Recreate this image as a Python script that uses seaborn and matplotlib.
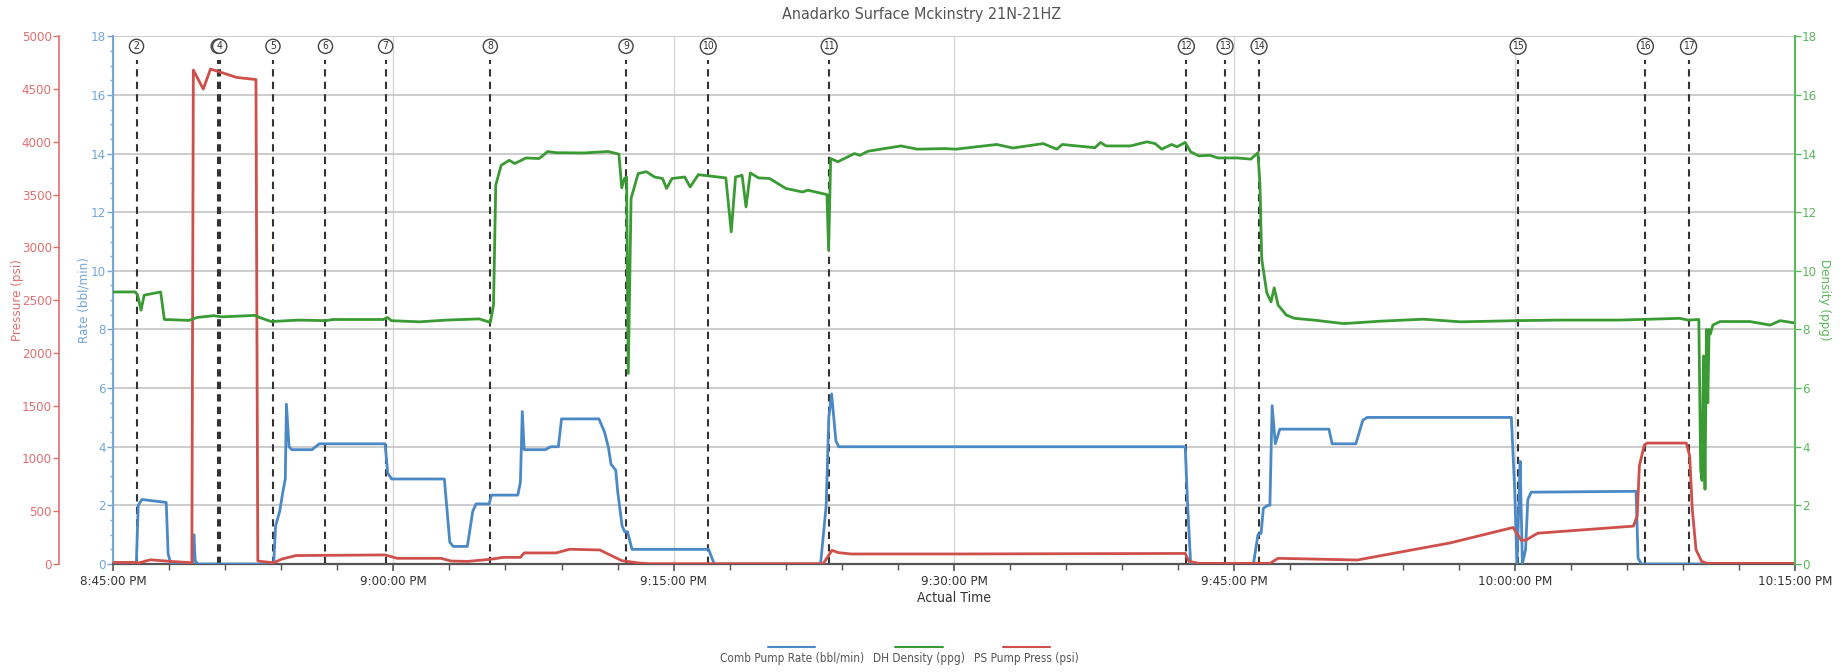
import numpy as np
import pandas as pd
import matplotlib
matplotlib.use("Agg")
import matplotlib.pyplot as plt
import seaborn as sns
from matplotlib.ticker import MultipleLocator, FuncFormatter
from matplotlib.offsetbox import VPacker
from matplotlib.lines import Line2D

# ---------------- data (minutes after 8:45:00 PM) ----------------
rate_t = [0, 1.25, 1.35, 1.55, 2.85, 2.95, 3.1, 4.25, 4.33, 4.4, 4.55, 8.6, 8.7, 8.92, 9.1, 9.22,
          9.28, 9.42, 9.57, 10.65, 11.04, 14.56, 14.7, 14.91, 17.73, 18.02, 18.2, 18.96, 19.25,
          19.43, 20.13, 20.25, 21.66, 21.8, 21.9, 22.0, 23.13, 23.42, 23.83, 24.0, 24.25, 26.0,
          26.3, 26.5, 26.65, 26.9, 27.0, 27.24, 27.38, 27.53, 27.77, 31.87, 32.17, 37.86, 38.16,
          38.3, 38.45, 38.68, 38.83, 57.37, 57.5, 57.66, 61.02, 61.26, 61.43, 61.55, 61.78, 61.9,
          62.02, 62.19, 62.43, 65.06, 65.23, 66.5, 66.87, 67.1, 74.82, 75.0, 75.12, 75.22, 75.29,
          75.41, 75.58, 75.7, 75.88, 81.49, 81.6, 81.78, 90]
rate_v = [0, 0, 2.0, 2.2, 2.1, 0.35, 0, 0, 1.0, 0.1, 0, 0, 1.3, 1.8, 2.5, 2.9,
          5.45, 4.0, 3.9, 3.9, 4.1, 4.1, 3.1, 2.9, 2.9, 0.75, 0.6, 0.6, 1.8,
          2.05, 2.05, 2.35, 2.35, 2.8, 5.2, 3.9, 3.9, 4.0, 4.0, 4.95, 4.95, 4.95,
          4.5, 4.0, 3.4, 3.2, 2.5, 1.3, 1.1, 1.1, 0.5, 0.5, 0, 0, 2.0,
          5.0, 5.8, 4.2, 4.0, 4.0, 2.0, 0, 0, 1.0, 1.05, 1.9, 2.0, 2.0,
          5.4, 4.1, 4.6, 4.6, 4.1, 4.1, 4.9, 5.0, 5.0, 2.5, 0, 2.0, 3.5,
          0, 0.5, 2.2, 2.45, 2.48, 0.2, 0, 0]

press_t = [0, 1.14, 1.38, 2.0, 3.05, 4.22, 4.3, 4.83, 5.22, 6.62, 7.65, 7.75, 7.88, 8.6, 9.05,
           9.8, 11.1, 14.56, 15.2, 17.55, 18.1, 19.0, 20.2, 20.9, 21.8, 22.0, 23.7, 24.44, 26.05,
           27.22, 28.1, 28.7, 38.0, 38.47, 38.8, 39.5, 45, 57.37, 57.57, 58.1, 61.9, 62.34, 66.58,
           71.55, 74.91, 75.35, 75.58, 76.23, 81.35, 81.55, 81.67, 81.93, 82.08, 84.18, 84.36,
           84.5, 84.7, 85.0, 85.3, 90]
press_v = [15, 15, 10, 40, 25, 12, 4680, 4500, 4690, 4610, 4590, 30, 25, 12, 48,
           80, 82, 86, 54, 54, 28, 25, 45, 63, 63, 105, 105, 140, 133,
           32, 10, 3, 3, 130, 108, 95, 95, 100, 25, 6, 6, 54, 38,
           200, 346, 225, 225, 292, 359, 454, 930, 1127, 1146, 1146, 1025,
           517, 136, 25, 6, 6]

dens_t = [0, 1.2, 1.32, 1.5, 1.67, 2.55, 2.75, 4.07, 4.5, 5.39, 5.83, 7.59, 7.88, 8.47, 9.93,
          11.4, 11.75, 14.47, 14.68, 14.9, 16.38, 17.84, 19.6, 20.19, 20.36, 20.48, 20.77, 21.2,
          21.5, 22.1, 22.8, 23.26, 23.7, 25.17, 26.49, 27.07, 27.22, 27.37, 27.48, 27.57, 27.72,
          28.1, 28.54, 28.98, 29.4, 29.62, 29.91, 30.59, 30.88, 31.32, 32.79, 33.08, 33.31, 33.66,
          33.87, 34.1, 34.54, 35.13, 36.0, 36.89, 37.18, 38.2, 38.29, 38.4, 38.78, 39.67, 39.96,
          40.4, 42.16, 43.04, 44.5, 45.1, 47.28, 48.15, 49.77, 50.5, 50.79, 52.54, 52.84, 53.13,
          54.44, 55.32, 55.76, 56.11, 56.64, 56.93, 57.37, 57.66, 58.1, 58.68, 59.12, 60.15,
          60.88, 61.26, 61.37, 61.46, 61.73, 61.96, 62.13, 62.34, 62.78, 63.22, 64.24, 65.85,
          67.75, 70.09, 72.13, 75.06, 77.4, 80.61, 83.83, 84.27, 84.85, 84.95, 85.02, 85.1,
          85.18, 85.26, 85.33, 85.4, 85.47, 85.6, 85.99, 87.59, 88.66, 89.2, 90]
dens_v = [9.28, 9.28, 9.17, 8.66, 9.17, 9.28, 8.34, 8.31, 8.41, 8.47, 8.43, 8.48, 8.4, 8.27, 8.32,
          8.3, 8.34, 8.34, 8.41, 8.3, 8.26, 8.32, 8.36, 8.24, 8.83, 12.92, 13.6, 13.77,
          13.66, 13.85, 13.83, 14.07, 14.03, 14.02, 14.07, 13.98, 12.83, 13.15, 13.2, 6.5, 12.47,
          13.32, 13.38, 13.2, 13.15, 12.81, 13.15, 13.2, 12.86, 13.28, 13.17, 11.33, 13.2, 13.26,
          12.18, 13.34, 13.17, 13.15, 12.81, 12.69, 12.75, 12.6, 10.7, 13.83, 13.72, 14.0, 13.94,
          14.08, 14.26, 14.15, 14.17, 14.15, 14.31, 14.19, 14.34, 14.15, 14.31, 14.2, 14.38, 14.26,
          14.26, 14.4, 14.34, 14.15, 14.31, 14.23, 14.38, 14.06, 13.92, 13.94, 13.85, 13.85,
          13.81, 14.03, 12.92, 10.42, 9.26, 8.94, 9.42, 8.83, 8.49, 8.38, 8.32, 8.2,
          8.28, 8.35, 8.26, 8.3, 8.32, 8.32, 8.38, 8.32, 8.34, 3.2, 2.85, 7.1,
          2.55, 8.0, 5.5, 8.0, 7.85, 8.15, 8.27, 8.27, 8.15, 8.3, 8.22]

event_labels = ["2", "3", "4", "5", "6", "7", "8", "9", "10", "11", "12", "13", "14", "15", "16", "17"]
event_times = [1.26, 5.63, 5.71, 8.56, 11.37, 14.59, 20.19, 27.45, 31.85, 38.32,
               57.43, 59.5, 61.32, 75.18, 81.99, 84.3]

series_names = ["Comb Pump Rate (bbl/min)", "DH Density (ppg)", "PS Pump Press (psi)"]
title = "Anadarko Surface Mckinstry 21N-21HZ"

# ---------------- style ----------------
BLUE = "#4a89c6"
GREEN = "#3a9b34"
RED = "#cf4f4a"
BLUE_T = "#74a6d8"
GREEN_T = "#5cb85c"
RED_T = "#e07070"

sns.set_theme(style="white")
plt.rcParams["font.family"] = ["DejaVu Sans"]
plt.rcParams["font.stretch"] = "condensed"

fig = plt.figure(figsize=(18.43, 6.72), dpi=100)
ax = fig.add_axes([0.0613, 0.1607, 0.9127, 0.7853])
ax_p = ax.twinx()
ax_d = ax.twinx()

rate_df = pd.DataFrame({"t": rate_t, "v": rate_v})
press_df = pd.DataFrame({"t": press_t, "v": press_v})
dens_df = pd.DataFrame({"t": dens_t, "v": dens_v})

# event markers
ax.vlines(event_times, 0, 0.955, transform=ax.get_xaxis_transform(),
          colors="#333333", linewidth=1.5, linestyles=(0, (3.5, 2.5)), zorder=1)
for lab, t in zip(event_labels, event_times):
    ax.text(t, 0.981, lab, transform=ax.get_xaxis_transform(), ha="center", va="center",
            fontsize=7.5, color="#333333", zorder=5,
            bbox=dict(boxstyle="circle,pad=0.2", fc="white", ec="#444444", lw=1))

sns.lineplot(data=rate_df, x="t", y="v", ax=ax, color=BLUE, linewidth=2,
             estimator=None, sort=False, legend=False, zorder=3)
sns.lineplot(data=press_df, x="t", y="v", ax=ax_p, color=RED, linewidth=2,
             estimator=None, sort=False, legend=False)
sns.lineplot(data=dens_df, x="t", y="v", ax=ax_d, color=GREEN, linewidth=2,
             estimator=None, sort=False, legend=False)

ax.set_xlim(0, 90)
ax.set_ylim(0, 18)
ax_d.set_ylim(0, 18)
ax_p.set_ylim(0, 5000)

# x axis
def time_fmt(m, pos):
    total = int(round((20 * 60 + 45 + m) * 60))
    h = (total // 3600) % 24
    mi = (total // 60) % 60
    s = total % 60
    suf = "PM" if h >= 12 else "AM"
    h12 = h % 12 or 12
    return f"{h12}:{mi:02d}:{s:02d} {suf}"

ax.xaxis.set_major_locator(MultipleLocator(15))
ax.xaxis.set_minor_locator(MultipleLocator(3))
ax.xaxis.set_major_formatter(FuncFormatter(time_fmt))
ax.tick_params(axis="x", which="major", length=5, width=1.2, color="#555555",
               labelcolor="#333333", labelsize=9.5, pad=3, bottom=True)
ax.tick_params(axis="x", which="minor", length=4, width=1, color="#555555", bottom=True)
ax.set_xlabel("Actual Time", fontsize=10, color="#333333", labelpad=2)

# rate axis (left)
ax.yaxis.set_major_locator(MultipleLocator(2))
ax.yaxis.set_minor_locator(MultipleLocator(0.5))
ax.tick_params(axis="y", which="major", length=4, width=1, color=BLUE_T,
               labelcolor=BLUE_T, labelsize=9.5, pad=1, left=True)
ax.tick_params(axis="y", which="minor", length=2.5, width=1, color=BLUE_T, left=True)
ax.set_ylabel("Rate (bbl/min)", color=BLUE_T, fontsize=9.5)
ax.yaxis.set_label_coords(-0.0135, 0.5)

# pressure axis (outer left)
ax_p.yaxis.tick_left()
ax_p.yaxis.set_label_position("left")
ax_p.spines["left"].set_position(("outward", 39))
ax_p.yaxis.set_major_locator(MultipleLocator(500))
ax_p.tick_params(axis="y", length=4, width=1, color=RED_T, labelcolor=RED_T,
                 labelsize=9.5, pad=1, left=True, right=False)
ax_p.set_ylabel("Pressure (psi)", color=RED_T, fontsize=9.5)
ax_p.yaxis.set_label_coords(-0.053, 0.5)

# density axis (right)
ax_d.yaxis.set_major_locator(MultipleLocator(2))
ax_d.tick_params(axis="y", length=4, width=1, color=GREEN_T, labelcolor=GREEN_T,
                 labelsize=9.5, pad=1, right=True, left=False)
ax_d.set_ylabel("Density (ppg)", color=GREEN_T, fontsize=9.5, rotation=270, va="bottom")
ax_d.yaxis.set_label_coords(1.0135, 0.5)

# spines
for a in (ax, ax_p, ax_d):
    for s in a.spines.values():
        s.set_visible(False)
ax.spines["bottom"].set_visible(True)
ax.spines["bottom"].set_color("#555555")
ax.spines["bottom"].set_linewidth(1.6)
ax.spines["left"].set_visible(True)
ax.spines["left"].set_color(BLUE_T)
ax.spines["left"].set_linewidth(1.5)
ax_p.spines["left"].set_visible(True)
ax_p.spines["left"].set_color(RED_T)
ax_p.spines["left"].set_linewidth(1.2)
ax_d.spines["right"].set_visible(True)
ax_d.spines["right"].set_color(GREEN_T)
ax_d.spines["right"].set_linewidth(1.5)

# grid
ax.set_axisbelow(True)
ax.yaxis.grid(True, which="major", color="#c4c4c4", linewidth=1.2)
ax.xaxis.grid(True, which="major", color="#d6d6d6", linewidth=1)
ax_p.grid(False)
ax_d.grid(False)

# title
fig.text(0.5, 0.978, title, ha="center", va="center", fontsize=11.5, color="#555555")

# legend (line above label)
handles = [Line2D([], [], color=BLUE, lw=1.5), Line2D([], [], color=GREEN, lw=1.5),
           Line2D([], [], color=RED, lw=1.5)]
leg = fig.legend(handles, series_names, loc="center", bbox_to_anchor=(0.488, 0.027),
                 ncol=3, frameon=False, handlelength=4, columnspacing=0.8,
                 fontsize=8.5, labelcolor="#555555")
try:
    for col in leg._legend_handle_box.get_children():
        for item in col.get_children():
            item.__class__ = VPacker
            item.align = "center"
            item.sep = 1
except Exception:
    pass

fig.savefig("out.png", dpi=100)
